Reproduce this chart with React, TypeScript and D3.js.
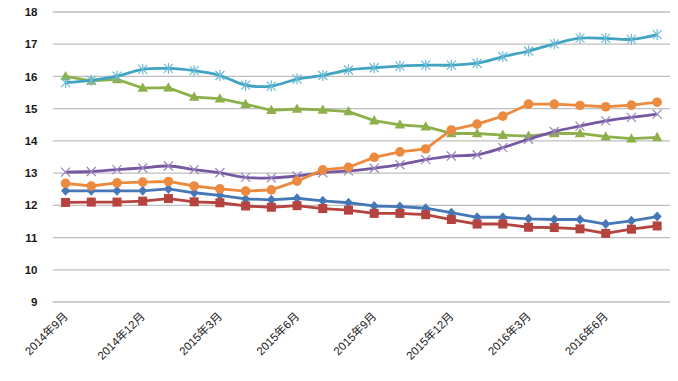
import React from "react";
import * as d3 from "d3";

const months = [
  "2014年9月","2014年10月","2014年11月","2014年12月","2015年1月","2015年2月","2015年3月","2015年4月",
  "2015年5月","2015年6月","2015年7月","2015年8月","2015年9月","2015年10月","2015年11月","2015年12月",
  "2016年1月","2016年2月","2016年3月","2016年4月","2016年5月","2016年6月","2016年7月","2016年8月",
];
const tickLabels = ["2014年9月","2014年12月","2015年3月","2015年6月","2015年9月","2015年12月","2016年3月","2016年6月"];
const yTicks = [9, 10, 11, 12, 13, 14, 15, 16, 17, 18];

const blueValues = [12.45,12.45,12.45,12.45,12.51,12.39,12.31,12.2,12.17,12.22,12.14,12.08,11.98,11.96,11.91,11.77,11.63,11.63,11.58,11.56,11.56,11.42,11.52,11.65];
const redValues = [12.09,12.1,12.1,12.13,12.21,12.11,12.08,11.98,11.94,11.99,11.9,11.85,11.75,11.75,11.71,11.56,11.42,11.42,11.32,11.31,11.27,11.13,11.26,11.36];
const greenValues = [16.0,15.86,15.91,15.64,15.65,15.36,15.31,15.14,14.95,14.99,14.96,14.91,14.63,14.5,14.44,14.23,14.23,14.18,14.15,14.23,14.23,14.13,14.07,14.11];
const purpleValues = [13.03,13.05,13.11,13.16,13.22,13.11,13.01,12.87,12.85,12.91,13.01,13.07,13.15,13.26,13.42,13.53,13.57,13.79,14.05,14.29,14.46,14.62,14.73,14.83];
const tealValues = [15.81,15.88,16.01,16.22,16.25,16.18,16.03,15.73,15.7,15.92,16.03,16.2,16.27,16.32,16.35,16.35,16.41,16.61,16.79,17.01,17.19,17.18,17.15,17.3];
const orangeValues = [12.68,12.6,12.7,12.72,12.74,12.6,12.51,12.44,12.48,12.75,13.1,13.18,13.49,13.66,13.75,14.34,14.52,14.77,15.14,15.14,15.1,15.06,15.11,15.2];

type Marker = "diamond" | "square" | "triangle" | "x" | "star" | "circle";
const series: { values: number[]; color: string; marker: Marker; smooth: boolean }[] = [
  { values: blueValues, color: "#4678B8", marker: "diamond", smooth: false },
  { values: redValues, color: "#B5433F", marker: "square", smooth: false },
  { values: greenValues, color: "#8DB04B", marker: "triangle", smooth: false },
  { values: purpleValues, color: "#7658A2", marker: "x", smooth: true },
  { values: tealValues, color: "#40A4C2", marker: "star", smooth: true },
  { values: orangeValues, color: "#EC8A3F", marker: "circle", smooth: false },
];

function markerEl(m: Marker, cx: number, cy: number, color: string, key: string) {
  switch (m) {
    case "diamond":
      return <path key={key} d={`M${cx},${cy - 5}L${cx + 4.5},${cy}L${cx},${cy + 5}L${cx - 4.5},${cy}Z`} fill={color} />;
    case "square":
      return <rect key={key} x={cx - 4.5} y={cy - 4.5} width={9} height={9} fill={color} />;
    case "triangle":
      return <path key={key} d={`M${cx},${cy - 5.5}L${cx + 5.2},${cy + 3.8}L${cx - 5.2},${cy + 3.8}Z`} fill={color} />;
    case "x":
      return (
        <path key={key} d={`M${cx - 4.5},${cy - 4.5}L${cx + 4.5},${cy + 4.5}M${cx - 4.5},${cy + 4.5}L${cx + 4.5},${cy - 4.5}`}
          stroke="#9A86BE" strokeWidth={1.2} fill="none" />
      );
    case "star":
      return (
        <path key={key} d={`M${cx - 4.5},${cy - 4.5}L${cx + 4.5},${cy + 4.5}M${cx - 4.5},${cy + 4.5}L${cx + 4.5},${cy - 4.5}M${cx},${cy - 5.5}L${cx},${cy + 5.5}`}
          stroke="#6CBBD4" strokeWidth={1.2} fill="none" />
      );
    case "circle":
      return <circle key={key} cx={cx} cy={cy} r={4.8} fill={color} />;
  }
}

export default function App() {
  const W = 678, H = 381;
  const x = d3.scaleBand<string>().domain(months).range([52.7, 670]);
  const bw = x.bandwidth();
  const cxOf = (m: string) => (x(m) as number) + bw / 2;
  const y = d3.scaleLinear().domain([9, 18]).range([302, 12]);

  return (
    <svg width={W} height={H} style={{ position: "absolute", left: 0, top: 0, background: "#fff" }}
      fontFamily="'Liberation Sans', 'Noto Sans CJK SC', Arial, sans-serif">
      {yTicks.map((t) => (
        <g key={t}>
          <line x1={52.7} x2={670} y1={y(t)} y2={y(t)} stroke="#BFBFBF" strokeWidth={1.3} />
          <text x={37.5} y={y(t)} dy="0.36em" textAnchor="end" fontSize={11.5} fontWeight="bold" fill="#1a1a1a">{t}</text>
        </g>
      ))}
      {tickLabels.map((l) => (
        <text key={l} transform={`translate(${cxOf(l) + 3},${317}) rotate(-45)`} textAnchor="end" fontSize={11.5} fill="#1a1a1a">{l}</text>
      ))}
      {series.map((s, si) => {
        const line = d3.line<number>()
          .x((_, i) => cxOf(months[i]))
          .y((v) => y(v))
          .curve(s.smooth ? d3.curveCatmullRom.alpha(0.5) : d3.curveLinear);
        return (
          <g key={si}>
            <path d={line(s.values) || ""} fill="none" stroke={s.color} strokeWidth={2.8} strokeLinejoin="round" />
            {s.values.map((v, i) => markerEl(s.marker, cxOf(months[i]), y(v), s.color, `${si}-${i}`))}
          </g>
        );
      })}
    </svg>
  );
}
